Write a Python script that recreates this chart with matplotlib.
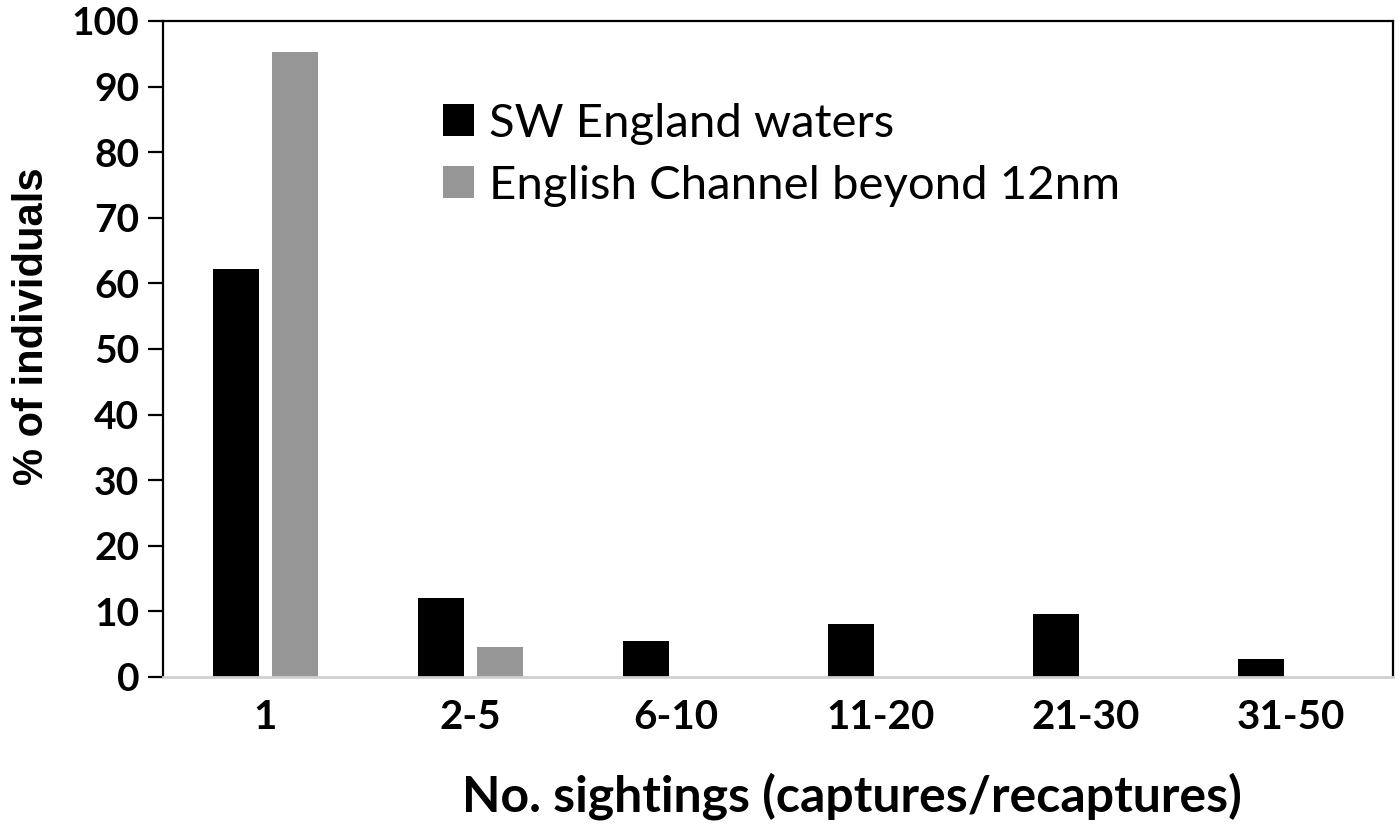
import matplotlib.pyplot as plt
import numpy as np

# Data
categories = ['1', '2-5', '6-10', '11-20', '21-30', '31-50']
sw_england = [62.2, 12.0, 5.5, 8.1, 9.6, 2.7]
channel_12nm = [95.2, 4.6, 0, 0, 0, 0]

plt.rcParams['font.family'] = ['Lato', 'DejaVu Sans']

fig = plt.figure(figsize=(14, 8.26), dpi=100)
ax = fig.add_axes([0.1164, 0.1804, 0.8786, 0.7942])

x = np.arange(len(categories))
w = 0.225
off = 0.144
ax.bar(x - off, sw_england, w, color='black', label='SW England waters')
ax.bar(x + off, channel_12nm, w, color='#969696', label='English Channel beyond 12nm')

ax.set_xlim(-0.5, len(categories) - 0.5)
ax.set_ylim(0, 100)
ax.set_yticks(range(0, 101, 10))
ax.set_xticks(x)
ax.set_xticklabels(categories, fontsize=29, fontweight='bold')
for lbl in ax.get_yticklabels():
    lbl.set_fontsize(28)
    lbl.set_fontweight('bold')

ax.tick_params(axis='y', direction='out', length=11, width=1.6, pad=6)
ax.tick_params(axis='x', length=0, pad=16)

for s in ['left', 'top', 'right']:
    ax.spines[s].set_linewidth(1.6)
    ax.spines[s].set_color('black')
ax.spines['bottom'].set_color('#d0d0d0')
ax.spines['bottom'].set_linewidth(2)

ax.set_ylabel('% of individuals', fontsize=30, fontweight='bold',
              family=['Liberation Sans', 'DejaVu Sans'])
ax.yaxis.set_label_coords(-0.09, 0.534)
ax.set_xlabel('No. sightings (captures/recaptures)', fontsize=36, fontweight='bold')
ax.xaxis.set_label_coords(0.56, -0.145)

ax.legend(loc='upper left', bbox_to_anchor=(0.2276, 0.875), frameon=False, fontsize=34,
          handlelength=0.66, handleheight=0.66, handletextpad=0.32, labelspacing=0.42,
          borderpad=0, borderaxespad=0)

plt.savefig('out.png', dpi=100)
